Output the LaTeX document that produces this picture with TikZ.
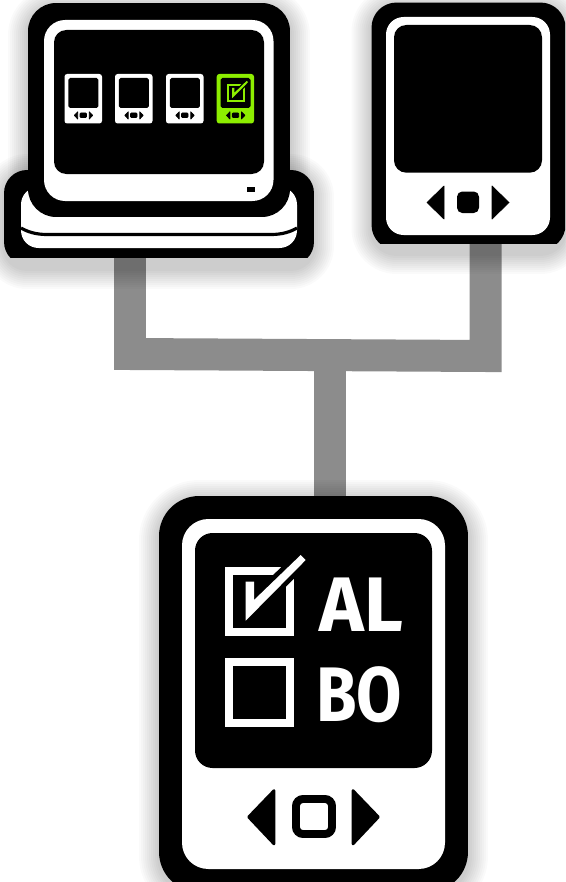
\documentclass[tikz,border=0pt]{standalone}
\usepackage{fontspec}
\setmainfont{Fira Sans}
\usetikzlibrary{backgrounds}
\definecolor{limegreen}{HTML}{8DEE00}
\definecolor{pipegray}{HTML}{8C8C8C}

\newcommand{\softshadow}[2]{%
  \foreach \g in {2,4,...,20}{
    \fill[black, opacity=.02, rounded corners=#2+\g*0.02cm]
      ([shift={(-\g,4+\g)}]#1.south west) rectangle ([shift={(\g,4-\g)}]#1.north east);
  }}
\newcommand{\tickbox}[3]{%
  \begin{scope}[shift={(#2)}, scale=#3]
    \draw[#1, line width=#3*4.5pt] (4,4) rectangle (65,65);
    \draw[black, line width=#3*5.4pt, line join=round] (20.7,53.7) -- (20.7,14.7) -- (29,14.7) -- (29,33) -- (75.7,-12) -- (80.7,-7) -- cycle;
    \fill[#1] (20.7,53.7) -- (20.7,14.7) -- (29,14.7) -- (29,33) -- (75.7,-12) -- (80.7,-7) -- cycle;
  \end{scope}}

\begin{document}
\begin{tikzpicture}[
  x=0.02cm, y=-0.02cm,
  shell/.style={fill=black, inner sep=0pt, outer sep=0pt},
  pane/.style={fill=white, rounded corners=#1},
  glass/.style={fill=black, rounded corners=#1},
  pipe/.style={draw=pipegray, line width=0.64cm},
  navkey/.style={fill=#1, draw=#1, line width=0.4pt, line join=round},
  tag/.style={text=white, font=\bfseries\fontsize{44}{44}\selectfont, inner sep=0pt, anchor=base west}
]

\useasboundingbox (0,0) rectangle (565,882);

\coordinate (leftbend) at (130,354);
\coordinate (rightbend) at (485.5,356);
\coordinate (hub) at (330,355);

% base station and its monitor
\begin{scope}
  \clip (0,0) rectangle (565,257);
  \node[shell, rounded corners=0.46cm, minimum width=6.2cm, minimum height=1.9cm] (dock) at (159,217.5) {};
\end{scope}
\fill[pane=10] (21,187) rectangle (297,248);
\draw[black, line width=1.8pt] (21,228) .. controls (28,232) and (36,234.5) .. (47,234.5) -- (271,234.5) .. controls (282,234.5) and (290,232) .. (297,228);

\node[shell, rounded corners=0.56cm, minimum width=5.24cm, minimum height=4.28cm] (monitor) at (159,110) {};
\fill[pane=12] (44,20) rectangle (273.5,201);
\fill[glass=7] (54,30) rectangle (264,174);
\fill[black] (247,187) rectangle (255,192);

\foreach \mx in {64.5,115,166}{
  \fill[white, rounded corners=1.5] (\mx,74) rectangle +(37.5,49.5);
  \fill[glass=1] (\mx+3.8,78) rectangle +(30,30);
  \fill[navkey=black, rounded corners=0.5] (\mx+15.5,113) rectangle +(6.5,4.5);
  \fill[navkey=black] (\mx+13.2,111.8) -- (\mx+13.2,119) -- (\mx+9.8,115.4) -- cycle;
  \fill[navkey=black] (\mx+24.8,111.8) -- (\mx+24.8,119) -- (\mx+28.2,115.4) -- cycle;
}
\fill[limegreen, rounded corners=1.5] (216.7,74) rectangle (254,123.5);
\fill[glass=1] (220.5,78) rectangle (250.5,108);
\tickbox{limegreen}{226.7,84}{0.265}
\fill[navkey=black, rounded corners=0.5] (232.2,113) rectangle +(6.5,4.5);
\fill[navkey=black] (229.9,111.8) -- (229.9,119) -- (226.5,115.4) -- cycle;
\fill[navkey=black] (241.5,111.8) -- (241.5,119) -- (244.9,115.4) -- cycle;

% second handheld, top right
\begin{scope}
  \clip (0,0) rectangle (565,243);
  \node[shell, rounded corners=0.5cm, minimum width=3.88cm, minimum height=4.95cm] (slate) at (468.5,126.25) {};
\end{scope}
\fill[pane=10] (386,17) rectangle (550,235);
\fill[glass=7] (394,25) rectangle (542,172.7);
\fill[navkey=black] (444,186) -- (444,219) -- (427,202.5) -- cycle;
\fill[navkey=black] (492,186) -- (492,219) -- (509,202.5) -- cycle;
\fill[glass=3] (457,191.5) rectangle (479,213);

% large handheld
\node[shell, rounded corners=0.8cm, minimum width=6.18cm, minimum height=7.92cm] (handheld) at (313.5,694) {};
\fill[pane=15] (182,519) rectangle (445,869);
\fill[glass=10] (195,533) rectangle (432,768);
\tickbox{white}{225,567}{1}
\draw[white, line width=4.5pt] (229,662) rectangle (290,723);
\node[tag] (altag) at (319,631.7) {\scalebox{.98}[1]{AL}};
\node[tag] (botag) at (316,721) {\scalebox{.85}[1]{BO}};
\fill[navkey=black, line width=1.5pt] (274,790.5) -- (274,844) -- (248.5,817) -- cycle;
\fill[navkey=black, line width=1.5pt] (353,790.5) -- (353,844) -- (378.5,817) -- cycle;
\draw[black, line width=4.5pt, rounded corners=4] (296,799) rectangle (332,834);

\begin{scope}[on background layer]
  \fill[white] (0,0) rectangle (565,882);
  \draw[pipe] (leftbend |- dock.center) -- (leftbend) -- (rightbend) -- (rightbend |- slate.center);
  \draw[pipe] (hub) -- (hub |- handheld.north);
  \softshadow{dock}{0.46cm}
  \softshadow{monitor}{0.56cm}
  \softshadow{slate}{0.5cm}
  \softshadow{handheld}{0.8cm}
\end{scope}

\end{tikzpicture}
\end{document}
